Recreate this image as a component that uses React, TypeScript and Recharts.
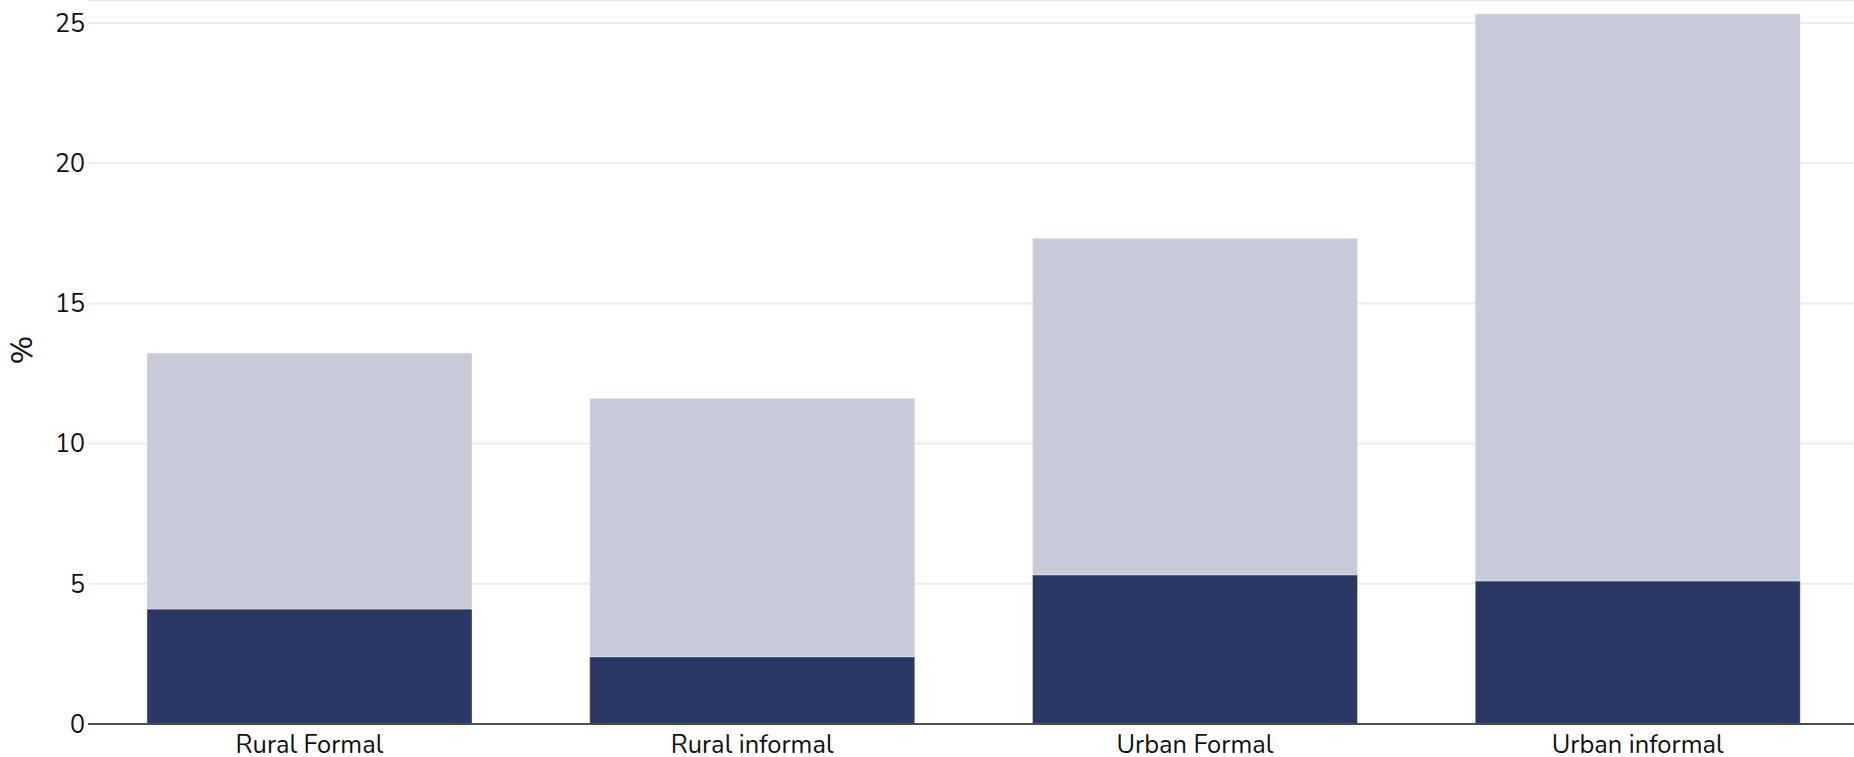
import { BarChart, Bar, XAxis, YAxis, CartesianGrid } from 'recharts'

const categories = ['Rural Formal', 'Rural informal', 'Urban Formal', 'Urban informal']
const lowerValues = [4.1, 2.4, 5.32, 5.1]
const upperValues = [9.13, 9.22, 12.0, 20.23]
const yTicks = [0, 5, 10, 15, 20, 25]

const data = categories.map((name, i) => ({ name, lower: lowerValues[i], upper: upperValues[i] }))

const font = 'Nunito, Lato, sans-serif'

function PercentLabel({ viewBox }: any) {
  const cx = viewBox.x + 22
  const cy = viewBox.y + viewBox.height / 2 - 12
  return (
    <text x={cx} y={cy} transform={`rotate(-90, ${cx}, ${cy})`} textAnchor="middle" dominantBaseline="central"
      fontSize={31} fontFamily={font} fill="#111">%</text>
  )
}

export default function App() {
  return (
    <div style={{ position: 'fixed', top: 0, left: 0, width: 1854, height: 757, overflow: 'hidden', background: '#fff' }}>
      <BarChart width={1859} height={770} data={data} margin={{ top: 0, right: 0, bottom: 0, left: 0 }}>
        <CartesianGrid vertical={false} stroke="#ebebeb" strokeWidth={2} />
        <XAxis dataKey="name" height={46} tickLine={false} tickSize={0} tickMargin={11}
          axisLine={{ stroke: '#4d4d4d', strokeWidth: 2 }}
          tick={{ fontSize: 25.5, fill: '#111', fontFamily: font }} interval={0} />
        <YAxis width={88} domain={[0, 25.82]} ticks={yTicks} allowDataOverflow axisLine={false}
          tickLine={false} tickSize={0} tickMargin={3}
          tick={{ fontSize: 25, fill: '#111', fontFamily: font }}
          label={<PercentLabel />} />
        <Bar dataKey="lower" stackId="a" fill="#2b3764" barSize={325} stroke="#ffffff" strokeOpacity={0.35}
          strokeWidth={1} isAnimationActive={false} />
        <Bar dataKey="upper" stackId="a" fill="#c9ccd8" barSize={325} stroke="#ffffff" strokeOpacity={0.35}
          strokeWidth={1} isAnimationActive={false} />
      </BarChart>
    </div>
  )
}
